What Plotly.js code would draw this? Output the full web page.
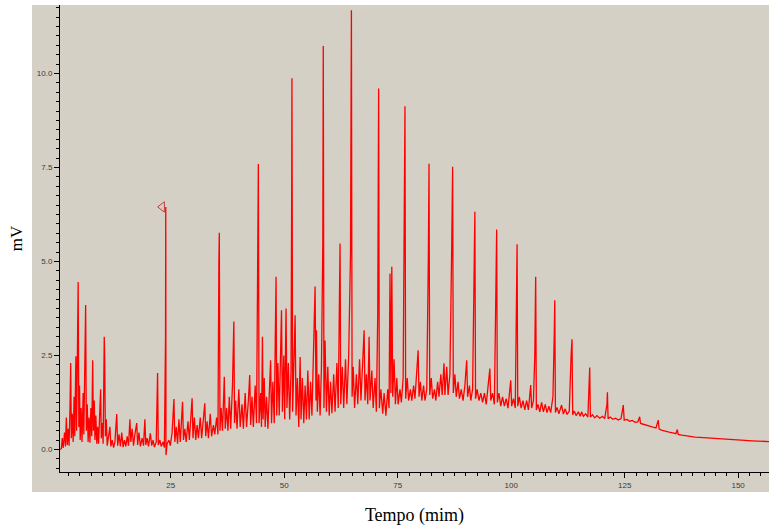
<!DOCTYPE html>
<html>
<head>
<meta charset="utf-8">
<script src="https://cdn.plot.ly/plotly-3.0.1.min.js"></script>
<style>html,body{margin:0;padding:0;background:#fff;}#chart{width:769px;height:531px;}</style>
</head>
<body>
<div id="chart"></div>
<script>
// Chromatogram signal: [time (min), signal (mV)]
const segEarly = [
[0.6,0.0],[0.9,0.02],[1.1,0.3],[1.3,0.04],[1.6,0.45],[1.8,0.08],[2.0,0.85],[2.2,0.12],[2.4,0.55],[2.6,0.1],
[2.8,1.1],[2.95,2.3],[3.1,0.3],[3.3,0.95],[3.5,0.2],[3.7,1.4],[3.85,0.35],[4.1,2.48],[4.25,0.5],[4.45,3.8],
[4.6,4.45],[4.75,0.6],[4.9,1.7],[5.05,0.25],[5.25,1.1],[5.45,0.2],[5.7,1.5],[5.85,0.4],[6.1,3.0],[6.25,3.84],
[6.4,0.5],[6.6,1.2],[6.8,0.2],[7.0,0.85],[7.2,0.18],[7.4,1.1],[7.6,0.35],[7.8,2.37],[7.95,0.5],[8.15,1.3],
[8.3,0.25],[8.5,0.9],[8.7,0.15],[8.9,0.6],[9.1,0.15],[9.35,1.1],[9.55,1.6],[9.7,0.3],[9.9,0.7],[10.1,0.15],
[10.35,3.0],[10.45,2.4],[10.6,0.35],[10.8,0.8],[11.0,0.1],[11.3,0.3],[11.6,0.6],[11.8,0.08],[12.1,0.25],[12.4,0.05],
[12.7,0.2],[13.1,0.94],[13.3,0.1],[13.6,0.4],[13.9,0.08],[14.2,0.45],[14.5,0.06],[14.8,0.25],[15.1,0.08],[15.4,0.35],
[15.7,0.1],[16.0,0.8],[16.2,0.2],[16.5,0.55],[16.8,0.1],[17.1,0.4],[17.5,0.7],[17.7,0.12],[18.0,0.45],[18.3,0.08],
[18.7,0.3],[19.0,0.1],[19.3,0.8],[19.5,0.12],[19.8,0.3],[20.1,0.08],[20.5,0.43],[20.8,0.1],[21.1,0.25],[21.4,0.06],
[21.8,0.2],[22.1,2.03],[22.25,0.12],[22.6,0.25],[22.9,0.08],[23.3,0.2],[23.6,0.05],[23.85,3.0],[23.9,6.45],[23.95,-0.15],
[24.2,0.15],[24.6,0.25],[24.9,0.1]
];
const segMid = [
[25.3,0.45],[25.7,1.34],[25.9,0.2],[26.2,0.6],[26.5,0.15],[26.8,0.8],[27.1,0.2],[27.6,1.27],[27.8,0.25],[28.1,0.55],
[28.4,0.2],[28.8,0.75],[29.1,0.25],[29.7,1.36],[29.9,0.3],[30.2,0.85],[30.5,0.25],[30.8,0.65],[31.1,0.3],[31.5,0.85],
[31.8,0.3],[32.5,1.23],[32.7,0.35],[33.0,0.75],[33.3,0.3],[33.7,0.95],[34.0,0.35],[34.4,0.65],[34.7,0.4],[35.1,0.85],
[35.4,0.4],[35.6,5.0],[35.7,5.76],[35.85,0.5],[36.1,1.1],[36.4,0.5],[36.8,1.93],[37.0,0.55],[37.3,1.1],[37.6,0.5],
[37.9,1.4],[38.2,0.55],[38.6,1.7],[38.9,3.4],[39.05,0.7],[39.3,1.3],[39.6,0.55],[40.0,1.6],[40.3,0.6],[40.7,1.2],
[41.0,0.55],[41.4,1.5],[41.7,0.6],[42.1,1.3],[42.4,1.98],[42.6,0.65],[42.9,1.4],[43.2,0.6],[43.6,1.7],[43.9,0.7],
[44.2,5.5],[44.3,7.59],[44.45,0.7],[44.8,1.5],[45.0,0.6],[45.2,3.0],[45.35,0.8],[45.6,1.9],[45.8,0.6],[46.1,1.4],
[46.4,0.55],[46.7,1.7],[47.0,2.37],[47.2,0.7],[47.5,1.8],[47.8,0.7],[48.0,3.8],[48.2,4.59],[48.35,0.9],[48.6,2.3],
[48.9,0.9],[49.2,3.2],[49.4,3.7],[49.6,1.0],[49.9,2.5],[50.1,0.8],[50.4,3.75],[50.6,1.1],[50.9,2.3],[51.2,0.8],
[51.5,2.1],[51.65,7.0],[51.7,9.87],[51.85,1.0],[52.1,2.4],[52.4,3.57],[52.6,0.9],[52.9,1.9],[53.2,0.6],[53.5,2.46],
[53.7,0.8],[54.0,1.9],[54.3,0.7],[54.6,1.7],[54.9,0.8],[55.2,2.1],[55.5,0.8],[55.8,1.8],[56.1,0.9],[56.5,2.6],
[56.8,4.33],[57.0,1.3],[57.1,3.17],[57.3,1.0],[57.6,2.0],[57.9,0.9],[58.2,2.2],[58.5,5.5],[58.6,10.73],[58.75,1.1],
[59.0,2.9],[59.3,1.0],[59.6,2.2],[59.9,0.9],[60.2,1.8],[60.5,0.96],[60.9,2.0],[61.2,1.0],[61.6,2.3],[61.9,1.1],
[62.2,5.3],[62.3,5.48],[62.45,1.2],[62.8,2.2],[63.1,1.1],[63.5,2.4],[63.8,1.2],[64.2,2.5],[64.6,5.17],[64.8,11.68],
[64.95,1.4],[65.2,2.2],[65.5,1.1],[65.9,2.0],[66.2,1.2],[66.6,2.4],[66.9,1.3],[67.3,2.2],[67.6,3.17],[67.8,1.3],
[68.1,2.0],[68.4,1.2],[68.7,3.0],[68.9,1.3],[69.3,2.1],[69.6,1.1],[70.0,1.9],[70.3,1.0],[70.6,3.6],[70.8,9.6],
[70.95,1.1],[71.3,1.6],[71.7,0.95],[72.0,1.5],[72.4,0.9],[72.8,1.6],[73.1,1.1],[73.3,4.68],[73.5,1.5],[73.7,4.86],
[73.9,1.4],[74.2,2.4],[74.5,1.2],[74.8,1.9],[75.1,1.2],[75.5,1.6],[75.8,1.25],[76.2,1.9],[76.5,8.42],[76.6,9.13],
[76.75,1.35],[77.1,1.9],[77.4,1.3],[77.8,1.6],[78.1,1.3],[78.5,1.7],[78.8,1.35],[79.2,2.0],[79.5,2.64],[79.7,1.4],
[80.0,1.8],[80.3,1.3],[80.7,1.7],[81.0,1.3],[81.4,1.6],[81.75,5.12],[81.9,7.6],[82.05,1.45]
];
const segLate = [
[82.4,1.9],[82.7,1.35],[83.1,1.6],[83.4,1.3],[83.8,1.8],[84.1,1.4],[84.5,2.0],[84.8,1.45],[85.2,2.29],[85.4,1.45],
[85.8,2.2],[86.1,1.45],[86.5,2.0],[86.9,5.39],[87.1,7.52],[87.25,1.5],[87.6,2.0],[87.9,1.4],[88.3,1.8],[88.6,1.35],
[89.0,1.6],[89.4,1.3],[89.8,1.7],[90.2,2.37],[90.4,1.4],[90.8,1.7],[91.1,1.3],[91.5,1.6],[91.8,4.0],[92.0,6.32],
[92.15,1.35],[92.5,1.6],[92.9,1.3],[93.3,1.5],[93.7,1.25],[94.1,1.5],[94.5,1.2],[94.9,1.6],[95.3,2.15],[95.5,1.3],
[95.9,1.5],[96.3,1.2],[96.7,4.5],[96.8,5.85],[96.95,1.25],[97.3,1.5],[97.7,1.15],[98.1,1.4],[98.5,1.15],[98.9,1.35],
[99.3,1.1],[99.9,1.84],[100.1,1.15],[100.5,1.35],[100.9,1.1],[101.2,4.0],[101.3,5.46],[101.45,1.15],[101.8,1.4],[102.2,1.1],
[102.6,1.3],[103.0,1.05],[103.4,1.3],[103.8,1.05],[104.3,1.71],[104.5,1.1],[104.9,1.3],[105.2,2.5],[105.4,4.59],[105.55,1.05],
[105.9,1.2],[106.3,1.0],[106.7,1.25],[107.1,1.0],[107.5,1.2],[107.9,0.98],[108.3,1.15],[108.7,0.98],[109.2,1.4],[109.5,3.1],
[109.6,3.97],[109.75,0.98],[110.1,1.12],[110.5,0.95],[111.1,1.18],[111.5,0.94],[111.9,1.08],[112.3,0.93],[112.8,1.02],[113.2,2.5],
[113.4,2.93],[113.55,0.92],[113.9,1.02],[114.3,0.9],[114.8,1.0],[115.2,0.88],[115.5,1.0],[115.9,0.88],[116.4,0.95],[116.9,0.86],
[117.2,1.6],[117.3,2.18],[117.45,0.86],[117.9,0.92],[118.4,0.84],[118.9,0.9],[119.5,0.83],[120.1,0.88],[120.6,0.82],[121.1,1.2],
[121.2,1.52],[121.35,0.82],[121.8,0.86],[122.4,0.8],[123.0,0.83],[123.6,0.78],[124.2,0.82],[124.7,1.18],[124.9,0.78],[125.5,0.8],
[126.1,0.75],[126.7,0.77],[127.3,0.72],[127.9,0.73],[128.3,0.87],[128.5,0.69],[129.1,0.67],[129.8,0.64],[130.5,0.61],[131.2,0.59],
[131.9,0.57],[132.4,0.78],[132.6,0.54],[133.3,0.51],[134.0,0.48],[134.8,0.46],[135.6,0.44],[136.3,0.42],[136.6,0.53],[136.8,0.4],
[137.6,0.38],[138.5,0.36],[139.5,0.35],[140.5,0.33],[141.5,0.32],[142.5,0.31],[143.5,0.3],[144.5,0.29],[145.5,0.28],[146.5,0.27],
[147.5,0.26],[148.5,0.25],[150.0,0.25],[151.5,0.24],[153.0,0.23],[154.5,0.22],[156.0,0.22],[156.8,0.21]
];
// Peak marker (open triangle) near the 24 min peak
const markerTime = [23.1];
const markerSignal = [6.45];
// Tick labels
const xTickVals = [25, 50, 75, 100, 125, 150];
const yTickVals = [0, 2.5, 5, 7.5, 10];
const yTickText = ['0.0', '2.5', '5.0', '7.5', '10.0'];

const allPts = segEarly.concat(segMid, segLate);
const timeMin = allPts.map(p => p[0]);
const signalMv = allPts.map(p => p[1]);

const beige = '#D5D0C5';
const traces = [
  {x: timeMin, y: signalMv, type: 'scatter', mode: 'lines',
   line: {color: '#FF0000', width: 1.3}, hoverinfo: 'x+y', showlegend: false},
  {x: markerTime, y: markerSignal, type: 'scatter', mode: 'markers',
   marker: {symbol: 'triangle-left-open', size: 9, color: '#D03A3A', line: {width: 1, color: '#D03A3A'}},
   showlegend: false}
];

const tickFont = {family: 'Liberation Sans, Arial, sans-serif', size: 8, color: '#3a3a3a'};
const layout = {
  width: 769, height: 531,
  margin: {l: 60, r: 0, t: 5, b: 59, pad: 0},
  paper_bgcolor: '#FFFFFF',
  plot_bgcolor: beige,
  showlegend: false,
  xaxis: {
    range: [0.6, 156.8], showgrid: false, zeroline: false,
    showline: true, linecolor: '#000', linewidth: 1, mirror: false,
    ticks: 'outside', ticklen: 5, tickwidth: 1, tickcolor: '#000',
    tickmode: 'array', tickvals: xTickVals, ticktext: xTickVals.map(String),
    tickfont: tickFont,
    minor: {dtick: 2.5, tick0: 0, ticks: 'outside', ticklen: 3, tickwidth: 1, tickcolor: '#000', showgrid: false},
    title: {text: 'Tempo (mim)', font: {family: 'Liberation Serif, Times New Roman, serif', size: 18, color: '#000'}, standoff: 19}
  },
  yaxis: {
    range: [-0.6, 11.82], showgrid: false, zeroline: false,
    showline: true, linecolor: '#000', linewidth: 1,
    ticks: 'outside', ticklen: 5, tickwidth: 1, tickcolor: '#000',
    tickmode: 'array', tickvals: yTickVals, ticktext: yTickText,
    tickfont: tickFont,
    minor: {dtick: 0.25, tick0: 0, ticks: 'outside', ticklen: 3, tickwidth: 1, tickcolor: '#000', showgrid: false},
    title: {text: 'mV', font: {family: 'Liberation Serif, Times New Roman, serif', size: 17, color: '#000'}, standoff: 9}
  },
  shapes: [
    {type: 'rect', xref: 'paper', yref: 'paper', x0: -0.0395, x1: 1.0, y0: -0.043, y1: 1.0,
     fillcolor: beige, line: {width: 0}, layer: 'below'}
  ]
};

Plotly.newPlot('chart', traces, layout, {displayModeBar: false, staticPlot: true});
</script>
</body>
</html>
